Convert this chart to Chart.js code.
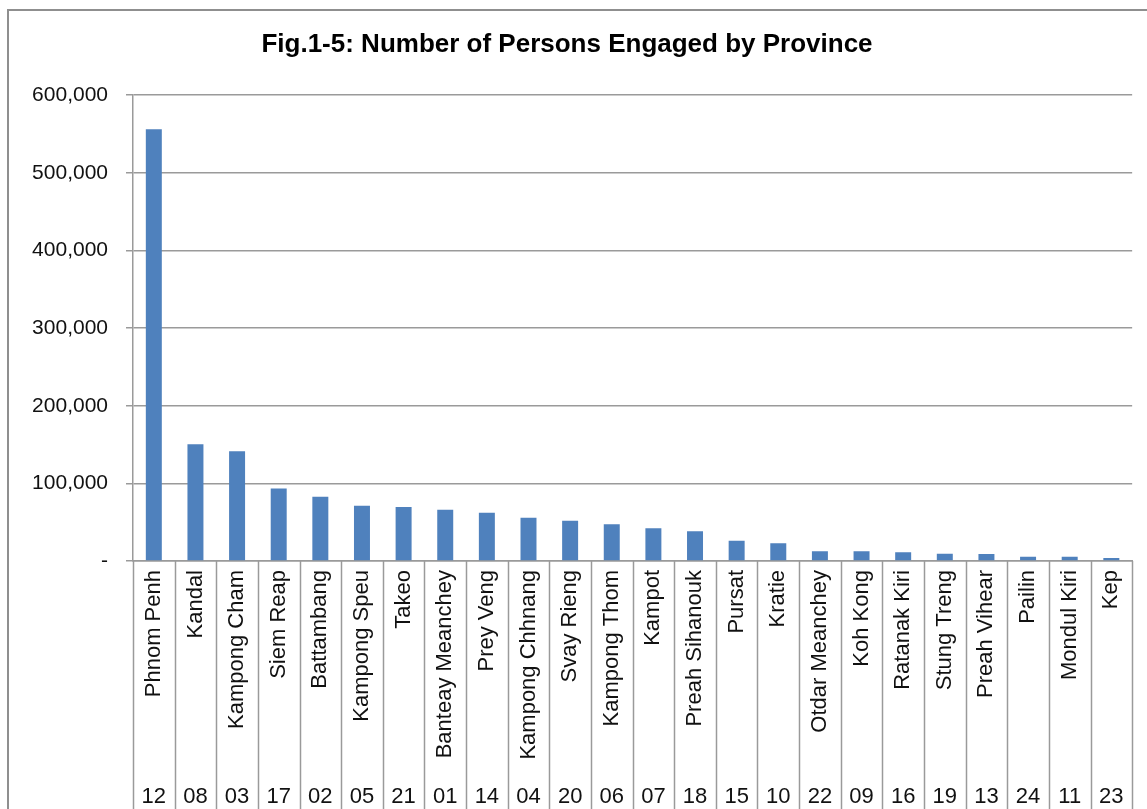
<!DOCTYPE html>
<html>
<head>
<meta charset="utf-8">
<script src="https://cdn.jsdelivr.net/npm/chart.js@4/dist/chart.umd.min.js"></script>
<style>
  html, body { margin: 0; padding: 0; background: #fff; }
  #frame { position: absolute; left: 7px; top: 9px; width: 1140px; height: 800px;
           border-top: 2px solid #8f8f8f; border-left: 2px solid #8f8f8f; }
  #wrap { position: absolute; left: 0; top: 0; width: 1147px; height: 809px; }
</style>
</head>
<body>
<div id="frame"></div>
<div id="wrap"><canvas id="myChart"></canvas></div>
<script>
  // provincias ordenadas por numero de personas
  const provincias = ['Phnom Penh', 'Kandal', 'Kampong Cham', 'Siem Reap', 'Battambang', 'Kampong Speu',
    'Takeo', 'Banteay Meanchey', 'Prey Veng', 'Kampong Chhnang', 'Svay Rieng', 'Kampong Thom',
    'Kampot', 'Preah Sihanouk', 'Pursat', 'Kratie', 'Otdar Meanchey', 'Koh Kong', 'Ratanak Kiri',
    'Stung Treng', 'Preah Vihear', 'Pailin', 'Mondul Kiri', 'Kep'];
  const codigos = ['12', '08', '03', '17', '02', '05', '21', '01', '14', '04', '20', '06',
    '07', '18', '15', '10', '22', '09', '16', '19', '13', '24', '11', '23'];
  const personas = [556000, 150500, 141500, 93500, 82800, 71200, 69500, 66000, 62200, 55800, 51900, 47200,
    42100, 38200, 26100, 22800, 12500, 12500, 11200, 9400, 9000, 5500, 5500, 3900];
  const yTicks = [0, 100000, 200000, 300000, 400000, 500000, 600000];

  const colorBarra = '#4F81BD';
  const colorLinea = '#9a9a9a';
  const fuente = 'Arial, "Liberation Sans", sans-serif';

  // lineas verticales de la tabla debajo del eje
  const separadores = {
    id: 'separadores',
    afterDraw(chart) {
      const xs = chart.scales.x;
      const ctx = chart.ctx;
      const ancho = xs.width / provincias.length;
      ctx.save();
      ctx.strokeStyle = colorLinea;
      ctx.lineWidth = 1.5;
      for (let i = 0; i <= provincias.length; i++) {
        const px = Math.round(xs.left + i * ancho) + 0.5;
        ctx.beginPath();
        ctx.moveTo(px, xs.top);
        ctx.lineTo(px, chart.height);
        ctx.stroke();
      }
      ctx.restore();
    }
  };

  const ctx = document.getElementById('myChart');
  new Chart(ctx, {
    type: 'bar',
    data: {
      labels: provincias,
      datasets: [{
        data: personas,
        backgroundColor: colorBarra,
        borderWidth: 0,
        categoryPercentage: 0.8,
        barPercentage: 0.48
      }]
    },
    options: {
      responsive: true,
      maintainAspectRatio: false,
      animation: false,
      layout: { padding: { left: 0, right: 13, top: 0, bottom: 0 } },
      plugins: {
        legend: { display: false },
        tooltip: { enabled: false },
        title: {
          display: true,
          text: 'Fig.1-5: Number of Persons Engaged by Province',
          color: '#000',
          font: { family: fuente, size: 26, weight: 'bold' },
          padding: { top: 29, bottom: 35 }
        }
      },
      scales: {
        y: {
          min: 0,
          max: 600000,
          afterBuildTicks: (scale) => { scale.ticks = yTicks.map(v => ({ value: v })); },
          afterFit: (scale) => { scale.width = 133; },
          ticks: {
            color: '#111',
            font: { family: fuente, size: 21 },
            padding: 18,
            callback: (v) => v === 0 ? '-' : Number(v).toLocaleString('en-US')
          },
          grid: { color: colorLinea, lineWidth: 1.5, tickLength: 7 },
          border: { color: colorLinea, width: 1.5 }
        },
        x: {
          position: 'bottom',
          afterFit: (scale) => { scale.height = 215; },
          ticks: {
            autoSkip: false,
            maxRotation: 90,
            minRotation: 90,
            padding: 9,
            color: '#111',
            font: { family: fuente, size: 22 }
          },
          grid: { drawOnChartArea: false, drawTicks: false },
          border: { color: colorLinea, width: 1.5 }
        },
        x2: {
          type: 'category',
          position: 'bottom',
          labels: codigos,
          afterFit: (scale) => { scale.height = 33; },
          ticks: {
            autoSkip: false,
            maxRotation: 0,
            minRotation: 0,
            padding: 8,
            color: '#111',
            font: { family: fuente, size: 22 }
          },
          grid: { display: false, drawTicks: false },
          border: { display: false }
        }
      }
    },
    plugins: [separadores]
  });
</script>
</body>
</html>
